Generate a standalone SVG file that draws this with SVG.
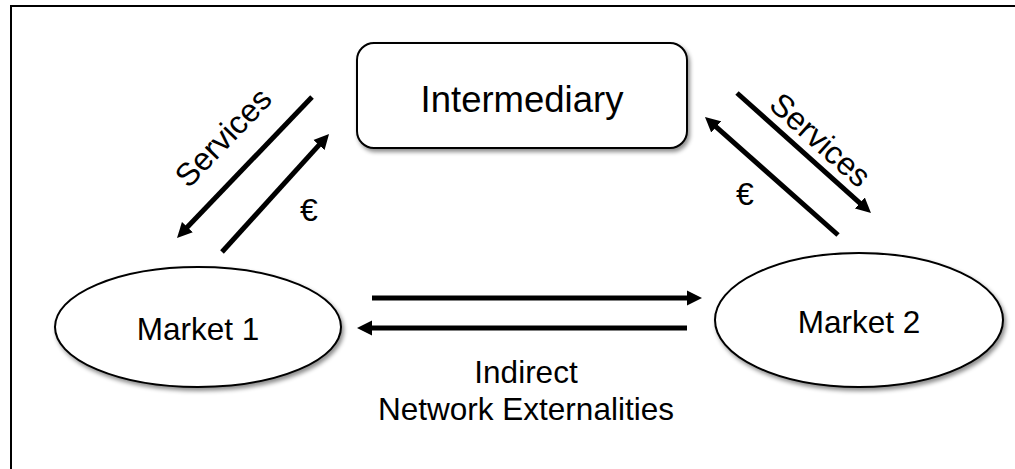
<svg xmlns="http://www.w3.org/2000/svg" width="1015" height="469" viewBox="0 0 1015 469">
<style>
text{font-family:"Liberation Sans",Arial,sans-serif;fill:#000}
.node{fill:#fff;stroke:#000;stroke-width:2;filter:url(#sh)}
.arr{stroke:#000;stroke-width:5;fill:none;marker-end:url(#ah)}
</style>
<defs>
<filter id="sh" x="-10%" y="-10%" width="130%" height="140%">
<feDropShadow dx="2" dy="3" stdDeviation="2" flood-color="#000" flood-opacity="0.45"/>
</filter>
<marker id="ah" markerUnits="userSpaceOnUse" markerWidth="16" markerHeight="16" viewBox="0 0 16 16" refX="2" refY="8" orient="auto">
<path d="M0,0.5 L15,8 L0,15.5 z" fill="#000"/>
</marker>
</defs>
<rect x="0" y="0" width="1015" height="469" fill="#fff"/>
<rect id="frame" x="11" y="6" width="1030" height="490" fill="none" stroke="#000" stroke-width="2"/>
<g id="intermediary">
<rect class="node" x="357" y="43" width="330" height="105" rx="17" ry="17"/>
<text x="522" y="112" font-size="36.5" text-anchor="middle">Intermediary</text>
</g>
<g id="market1">
<ellipse class="node" cx="198" cy="327" rx="143" ry="60"/>
<text x="198" y="340" font-size="31.5" text-anchor="middle">Market 1</text>
</g>
<g id="market2">
<ellipse class="node" cx="859" cy="320" rx="144" ry="67"/>
<text x="859" y="333" font-size="31.5" text-anchor="middle">Market 2</text>
</g>
<g id="connectors">
<line class="arr" x1="312" y1="97" x2="186" y2="228.6"/>
<line class="arr" x1="222" y1="252" x2="320.3" y2="143.6"/>
<line class="arr" x1="838" y1="235" x2="714.7" y2="125.6"/>
<line class="arr" x1="737" y1="93" x2="861.3" y2="204.3"/>
<line class="arr" x1="372" y1="298" x2="689" y2="298"/>
<line class="arr" x1="687" y1="328" x2="370" y2="328"/>
</g>
<g id="labels">
<text font-size="32" text-anchor="middle" transform="translate(231,145) rotate(-46)">Services</text>
<text font-size="32" text-anchor="middle" transform="translate(813,148) rotate(42)">Services</text>
<text x="309" y="221" font-size="32" text-anchor="middle">€</text>
<text x="745" y="205" font-size="32" text-anchor="middle">€</text>
<text x="526" y="383" font-size="31.5" text-anchor="middle">Indirect</text>
<text x="526" y="420" font-size="31.5" text-anchor="middle">Network Externalities</text>
</g>
</svg>
